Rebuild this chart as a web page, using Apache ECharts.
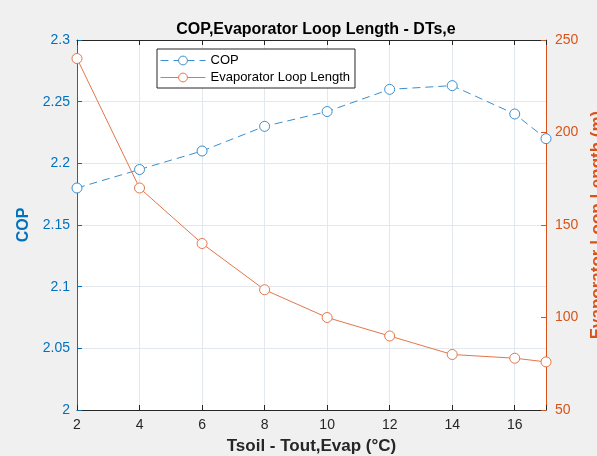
<!DOCTYPE html>
<html><head><meta charset="utf-8">
<script src="https://cdn.jsdelivr.net/npm/echarts@6/dist/echarts.min.js"></script>
<style>html,body{margin:0;padding:0;background:#f0f0f0;}#c{width:597px;height:456px;}</style>
</head><body><div id="c"></div>
<script>
const xValues = [2, 4, 6, 8, 10, 12, 14, 16, 17];
const copValues = [2.18, 2.195, 2.21, 2.23, 2.242, 2.26, 2.263, 2.24, 2.22];
const loopValues = [240, 170, 140, 115, 100, 90, 80, 78, 76];
const titleText = 'COP,Evaporator Loop Length - DTs,e';
const xLabel = 'Tsoil - Tout,Evap (°C)';
const yLeftLabel = 'COP';
const yRightLabel = 'Evaporator Loop Length (m)';
const seriesNames = ['COP', 'Evaporator Loop Length'];

const blue = '#0072BD', orange = '#D95319', dark = '#262626';
const lineBlue = '#3a8fd0', lineOrange = '#e3774a';
const FF = '"Liberation Sans", Arial, sans-serif';
const chart = echarts.init(document.getElementById('c'));
chart.setOption({
  backgroundColor: '#f0f0f0',
  animation: false,
  textStyle: { fontFamily: FF },
  title: { text: titleText, left: 311, textAlign: 'center', top: 17,
    textStyle: { fontFamily: FF, fontSize: 16, fontWeight: 'bold', color: '#000' } },
  grid: { left: 77, right: 51, top: 40, bottom: 46, show: true, backgroundColor: '#fff', borderWidth: 0,
    outerBoundsMode: 'none', containLabel: false },
  legend: {
    orient: 'vertical', left: 157, top: 49,
    data: [
      { name: seriesNames[0], itemStyle: { color: '#fff', borderColor: lineBlue, borderWidth: 1 }, lineStyle: { width: 1 } },
      { name: seriesNames[1], itemStyle: { color: '#fff', borderColor: lineOrange, borderWidth: 1 }, lineStyle: { width: 1 } }
    ],
    backgroundColor: '#fff', borderColor: dark, borderWidth: 1, borderRadius: 0,
    padding: [5, 5, 4, 3], itemGap: 4, itemWidth: 45, itemHeight: 11,
    textStyle: { fontFamily: FF, fontSize: 13, color: '#000' }
  },
  xAxis: [{
    type: 'value', min: 2, max: 17, interval: 2, position: 'bottom',
    name: xLabel, nameLocation: 'middle', nameGap: 28,
    nameTextStyle: { fontFamily: FF, fontSize: 17, fontWeight: 'bold', color: dark },
    axisLine: { show: true, lineStyle: { color: dark, width: 1 } },
    axisTick: { inside: true, length: 5, lineStyle: { color: dark } },
    axisLabel: { color: dark, fontSize: 14, margin: 8, formatter: v => v === 17 ? '' : v },
    splitLine: { show: true, lineStyle: { color: '#e3e8ee', width: 1 } }
  }, {
    type: 'value', min: 2, max: 17, interval: 2, position: 'top',
    axisLine: { show: true, lineStyle: { color: dark, width: 1 } },
    axisTick: { inside: true, length: 5, lineStyle: { color: dark } },
    axisLabel: { show: false }, splitLine: { show: false }
  }],
  yAxis: [{
    type: 'value', min: 2, max: 2.3, interval: 0.05, position: 'left',
    name: yLeftLabel, nameLocation: 'middle', nameGap: 42,
    nameTextStyle: { fontFamily: FF, fontSize: 16, fontWeight: 'bold', color: blue },
    axisLine: { show: true, lineStyle: { color: blue, width: 1 } },
    axisTick: { show: true, inside: true, length: 5, lineStyle: { color: blue } },
    axisLabel: { color: blue, fontSize: 14, margin: 7 },
    splitLine: { show: true, lineStyle: { color: '#e3e8ee', width: 1 } }
  }, {
    type: 'value', min: 50, max: 250, interval: 50, position: 'right',
    name: yRightLabel, nameLocation: 'middle', nameGap: 39,
    nameTextStyle: { fontFamily: FF, fontSize: 17, fontWeight: 'bold', color: orange },
    axisLine: { show: true, lineStyle: { color: orange, width: 1 } },
    axisTick: { show: true, inside: true, length: 5, lineStyle: { color: orange } },
    axisLabel: { color: orange, fontSize: 14, margin: 9 },
    splitLine: { show: false }
  }],
  series: [{
    name: seriesNames[0], type: 'line', yAxisIndex: 0,
    data: xValues.map((x, i) => [x, copValues[i]]),
    symbol: 'circle', symbolSize: 10,
    lineStyle: { color: lineBlue, width: 1, type: [8, 5] },
    itemStyle: { color: '#fff', borderColor: lineBlue, borderWidth: 1 }
  }, {
    name: seriesNames[1], type: 'line', yAxisIndex: 1,
    data: xValues.map((x, i) => [x, loopValues[i]]),
    symbol: 'circle', symbolSize: 10,
    lineStyle: { color: lineOrange, width: 1 },
    itemStyle: { color: '#fff', borderColor: lineOrange, borderWidth: 1 }
  }]
});
</script></body></html>
